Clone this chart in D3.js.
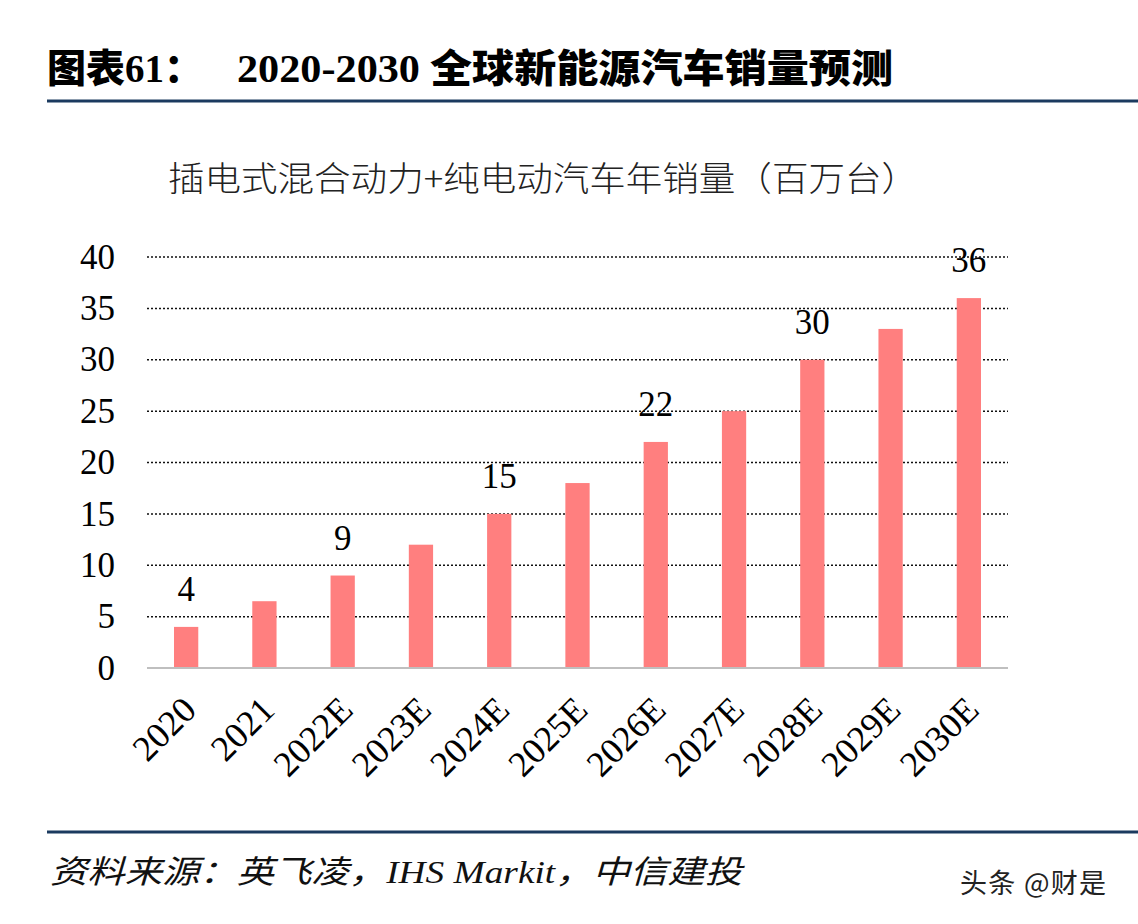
<!DOCTYPE html>
<html>
<head>
<meta charset="utf-8">
<script src="https://cdn.jsdelivr.net/npm/d3@7"></script>
<style>
  body { margin: 0; background: #fff; }
  svg { display: block; }
</style>
</head>
<body>
<svg width="1138" height="924"></svg>
<script>
// chart data
var years = ['2020', '2021', '2022E', '2023E', '2024E', '2025E', '2026E', '2027E', '2028E', '2029E', '2030E'];
var sales = [4, 6.5, 9, 12, 15, 18, 22, 25, 30, 33, 36];
var shownLabels = ['4', '', '9', '', '15', '', '22', '', '30', '', '36'];
var yTicks = [0, 5, 10, 15, 20, 25, 30, 35, 40];

var serif = '"Liberation Serif", "DejaVu Serif", serif';
var cjk = '"Noto Sans CJK SC", "Noto Sans", sans-serif';

var svg = d3.select('svg');
var margin = {top: 257, right: 130, bottom: 256, left: 147};
var width = 1138 - margin.left - margin.right;
var height = 924 - margin.top - margin.bottom;

// header
var title = svg.append('text')
    .attr('y', 82)
    .attr('fill', '#000')
    .style('font-size', '39px');
title.append('tspan')
    .attr('x', 47)
    .attr('font-family', cjk)
    .attr('font-weight', 900)
    .text('图表');
title.append('tspan')
    .attr('font-family', serif)
    .attr('font-weight', 'bold')
    .text('61');
title.append('tspan')
    .attr('font-family', cjk)
    .attr('font-weight', 900)
    .text('：');
title.append('tspan')
    .attr('x', 237)
    .attr('font-family', serif)
    .attr('font-weight', 'bold')
    .attr('textLength', 183)
    .attr('lengthAdjust', 'spacingAndGlyphs')
    .text('2020-2030');
title.append('tspan')
    .attr('x', 430)
    .attr('font-family', cjk)
    .attr('font-weight', 900)
    .attr('textLength', 463)
    .attr('lengthAdjust', 'spacingAndGlyphs')
    .text('全球新能源汽车销量预测');

svg.append('line')
    .attr('x1', 47).attr('x2', 1138)
    .attr('y1', 101).attr('y2', 101)
    .attr('stroke', '#1b3a5f')
    .attr('stroke-width', 3);

svg.append('text')
    .attr('x', 168)
    .attr('y', 191)
    .attr('font-family', cjk)
    .attr('font-weight', 300)
    .attr('fill', '#222')
    .attr('textLength', 750)
    .attr('lengthAdjust', 'spacingAndGlyphs')
    .style('font-size', '34px')
    .text('插电式混合动力+纯电动汽车年销量（百万台）');

var g = svg.append('g')
    .attr('transform', 'translate(' + margin.left + ',' + margin.top + ')');

// scales
var x = d3.scaleBand()
    .domain(years)
    .range([0, width])
    .paddingInner(0.69)
    .paddingOuter(0.345);
var y = d3.scaleLinear()
    .domain([0, 40])
    .range([height, 0]);

// dotted grid lines
g.selectAll('.grid')
    .data(yTicks.filter(function(d){ return d > 0; }))
    .enter()
    .append('line')
    .attr('class', 'grid')
    .attr('x1', 0).attr('x2', width)
    .attr('y1', function(d){ return y(d); })
    .attr('y2', function(d){ return y(d); })
    .attr('stroke', '#111')
    .attr('stroke-width', 1.5)
    .attr('stroke-dasharray', '2,2');

// y axis labels
var yAxis = g.append('g')
    .call(d3.axisLeft(y).tickValues(yTicks).tickSize(0).tickPadding(32).tickFormat(d3.format('d')));
yAxis.select('.domain').remove();
yAxis.selectAll('text')
    .attr('font-family', serif)
    .attr('fill', '#000')
    .style('font-size', '35px');

// bars
g.selectAll('.bar')
    .data(sales)
    .enter()
    .append('rect')
    .attr('class', 'bar')
    .attr('x', function(d, i){ return x(years[i]); })
    .attr('y', function(d){ return y(d); })
    .attr('width', x.bandwidth())
    .attr('height', function(d){ return height - y(d); })
    .attr('fill', '#ff7f7f');

// baseline
g.append('line')
    .attr('x1', 0).attr('x2', width)
    .attr('y1', height).attr('y2', height)
    .attr('stroke', '#bfbfbf')
    .attr('stroke-width', 2);

// value labels
g.selectAll('.val')
    .data(sales)
    .enter()
    .append('text')
    .attr('class', 'val')
    .attr('x', function(d, i){ return x(years[i]) + x.bandwidth() / 2; })
    .attr('y', function(d){ return y(d) - 26; })
    .attr('text-anchor', 'middle')
    .attr('font-family', serif)
    .attr('fill', '#000')
    .style('font-size', '35px')
    .text(function(d, i){ return shownLabels[i]; });

// x axis labels, rotated
var xAxis = g.append('g')
    .attr('transform', 'translate(0,' + height + ')')
    .call(d3.axisBottom(x).tickSize(0).tickPadding(0));
xAxis.select('.domain').remove();
xAxis.selectAll('text')
    .attr('font-family', serif)
    .attr('fill', '#000')
    .style('font-size', '36px')
    .attr('text-anchor', 'end')
    .attr('dy', null)
    .attr('y', 0)
    .attr('transform', 'translate(12,44) rotate(-45)');

// footer
svg.append('line')
    .attr('x1', 47).attr('x2', 1138)
    .attr('y1', 832).attr('y2', 832)
    .attr('stroke', '#1b3a5f')
    .attr('stroke-width', 3);

svg.append('text')
    .attr('x', 50)
    .attr('y', 883)
    .attr('font-family', '"Liberation Serif", "Noto Sans CJK SC", serif')
    .attr('font-style', 'italic')
    .attr('fill', '#111')
    .attr('textLength', 692)
    .attr('lengthAdjust', 'spacingAndGlyphs')
    .style('font-size', '32px')
    .text('资料来源：英飞凌，IHS Markit，中信建投');

svg.append('text')
    .attr('x', 960)
    .attr('y', 893)
    .attr('font-family', cjk)
    .attr('fill', '#222')
    .style('font-size', '27px')
    .attr('textLength', 146)
    .text('头条 @财是');
</script>
</body>
</html>
